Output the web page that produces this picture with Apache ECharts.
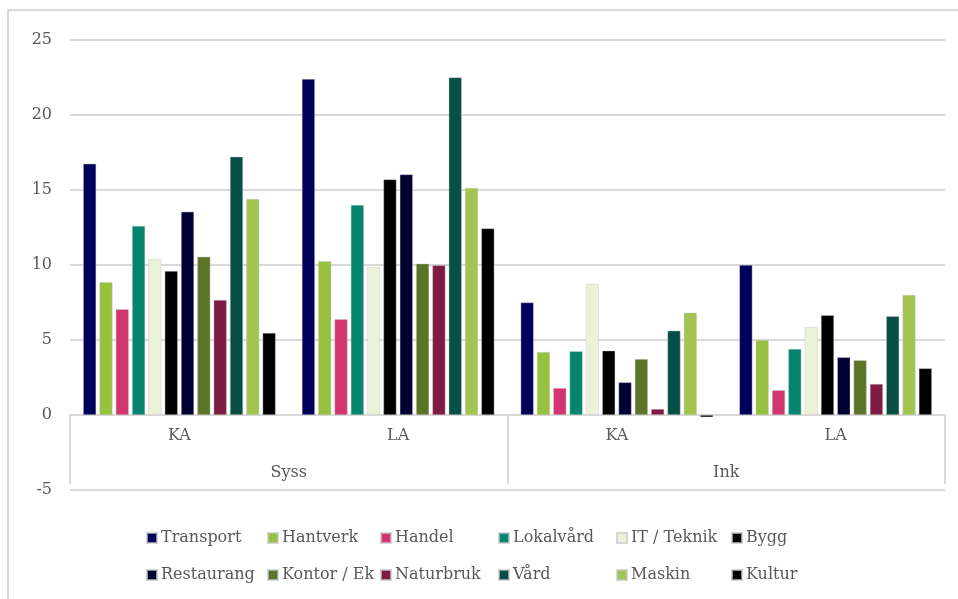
<!DOCTYPE html>
<html>
<head>
<meta charset="utf-8">
<script src="https://cdn.jsdelivr.net/npm/echarts@6/dist/echarts.min.js"></script>
<style>
html,body{margin:0;padding:0;background:#fff;}
#chart{width:958px;height:599px;}
</style>
</head>
<body>
<div id="chart"></div>
<script>
// Category levels
const categories = ['KA', 'LA', 'KA', 'LA'];
const groups = ['Syss', 'Ink'];
const yTicks = { min: -5, max: 25, interval: 5 };

// Series values (Syss KA, Syss LA, Ink KA, Ink LA)
const seriesNames = ['Transport', 'Hantverk', 'Handel', 'Lokalvård', 'IT / Teknik', 'Bygg',
                     'Restaurang', 'Kontor / Ek', 'Naturbruk', 'Vård', 'Maskin', 'Kultur'];
const transport  = [16.75, 22.4, 7.5, 10.0];
const hantverk   = [8.85, 10.25, 4.2, 5.0];
const handel     = [7.05, 6.38, 1.8, 1.65];
const lokalvard  = [12.6, 14.0, 4.25, 4.4];
const itTeknik   = [10.38, 9.87, 8.73, 5.87];
const bygg       = [9.6, 15.71, 4.29, 6.65];
const restaurang = [13.55, 16.04, 2.18, 3.85];
const kontor     = [10.55, 10.09, 3.73, 3.65];
const naturbruk  = [7.67, 9.98, 0.4, 2.07];
const vard       = [17.22, 22.51, 5.62, 6.58];
const maskin     = [14.4, 15.13, 6.82, 8.0];
const kultur     = [5.47, 12.44, -0.15, 3.11];

const seriesValues = [transport, hantverk, handel, lokalvard, itTeknik, bygg,
                      restaurang, kontor, naturbruk, vard, maskin, kultur];
const colors = ['#00005a', '#96c03e', '#d33571', '#05846e', '#eaf2d8', '#000000',
                '#000033', '#5b7428', '#7e1a44', '#054f44', '#a3c451', '#000000'];

const FONT = 'DejaVu Serif';
const TXT = '#595959';
const GRID = '#d9d9d9';

const legendLefts = [146, 267, 380, 498, 616, 731];
const legends = legendLefts.map((l, i) => ({
  orient: 'vertical',
  left: l,
  top: 529,
  padding: 0,
  itemWidth: 10,
  itemHeight: 10,
  itemGap: 19,
  icon: 'rect',
  selectedMode: false,
  data: [seriesNames[i], seriesNames[i + 6]],
  textStyle: { color: TXT, fontFamily: FONT, fontSize: 16, lineHeight: 18, padding: [0, 0, 0, -1] }
}));

const chart = echarts.init(document.getElementById('chart'), null, { renderer: 'canvas' });
chart.setOption({
  animation: false,
  backgroundColor: '#fff',
  color: colors,
  graphic: [{
    type: 'rect',
    shape: { x: 8, y: 10, width: 1000, height: 700 },
    style: { fill: 'none', stroke: GRID, lineWidth: 2 },
    silent: true
  }],
  grid: { left: 70, right: 13, top: 40, bottom: 109, containLabel: false },
  legend: legends,
  xAxis: [{
    type: 'category',
    data: categories,
    position: 'bottom',
    offset: -75,
    axisLine: { onZero: false, lineStyle: { color: GRID, width: 2 } },
    axisTick: { show: false },
    axisLabel: { color: TXT, fontFamily: FONT, fontSize: 16, margin: 13 }
  }, {
    type: 'category',
    data: groups,
    position: 'bottom',
    offset: -6,
    axisLine: { show: false, onZero: false },
    axisTick: { show: true, inside: true, length: 69, lineStyle: { color: GRID, width: 2 } },
    axisLabel: { inside: true, color: TXT, fontFamily: FONT, fontSize: 16, margin: 3 },
    splitLine: { show: false }
  }],
  yAxis: {
    type: 'value',
    min: yTicks.min,
    max: yTicks.max,
    interval: yTicks.interval,
    axisLine: { show: false },
    axisTick: { show: false },
    axisLabel: { color: TXT, fontFamily: FONT, fontSize: 16, margin: 18 },
    splitLine: { lineStyle: { color: GRID, width: 2 } }
  },
  series: seriesNames.map((name, i) => ({
    name: name,
    type: 'bar',
    xAxisIndex: 0,
    data: seriesValues[i],
    barGap: '25%',
    barCategoryGap: '12%',
    itemStyle: { color: colors[i], borderColor: 'rgba(200,200,200,0.7)', borderWidth: 0.6 }
  }))
});
</script>
</body>
</html>
